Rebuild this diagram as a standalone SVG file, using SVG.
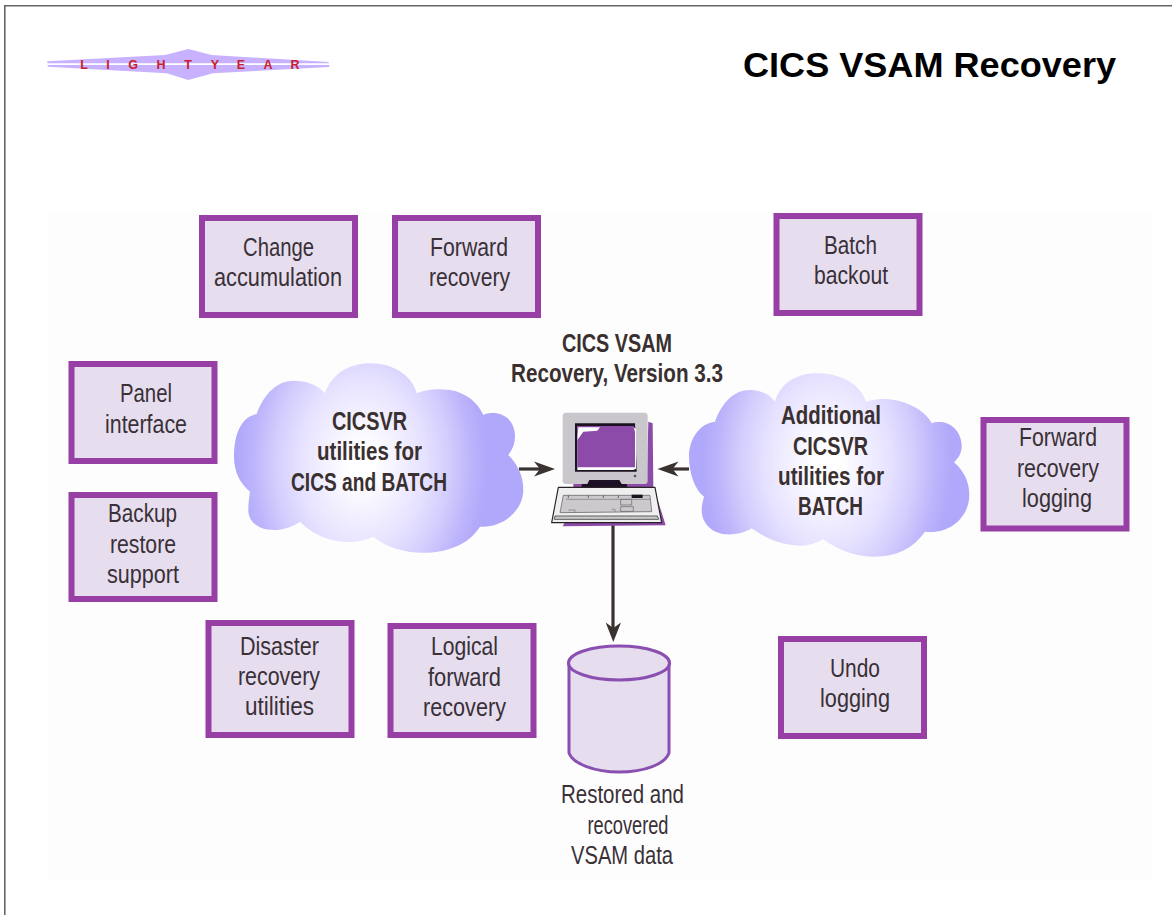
<svg xmlns="http://www.w3.org/2000/svg" width="1172" height="915" viewBox="0 0 1172 915">
<style>
.box{fill:#e6deee;stroke:#983fa6;stroke-width:6}
.t{font-family:"Liberation Sans",Arial,sans-serif;font-size:25px;fill:#3a3038;text-anchor:middle}
.b{font-weight:bold;fill:#3a3030}
.ln{stroke:#3a3230;stroke-width:3.2;fill:none}
.ah{fill:#3a3230}
.s0{stop-color:#ffffff}.s1{stop-color:#f6f4ff}.s2{stop-color:#e6e2ff}.s3{stop-color:#d2cdfd}.s4{stop-color:#bdb5fb}.s5{stop-color:#b0a8fa}
</style>
<defs>
<radialGradient id="c1" gradientUnits="userSpaceOnUse" cx="0" cy="0" r="1" gradientTransform="translate(362 464) scale(125 170)">
<stop offset="0.1" class="s0"/><stop offset="0.25" class="s1"/><stop offset="0.5" class="s2"/><stop offset="0.7" class="s3"/><stop offset="0.87" class="s4"/><stop offset="1" class="s5"/>
</radialGradient>
<radialGradient id="c2" gradientUnits="userSpaceOnUse" cx="0" cy="0" r="1" gradientTransform="translate(827 463) scale(125 170)">
<stop offset="0.1" class="s0"/><stop offset="0.25" class="s1"/><stop offset="0.5" class="s2"/><stop offset="0.7" class="s3"/><stop offset="0.87" class="s4"/><stop offset="1" class="s5"/>
</radialGradient>
</defs>
<rect width="1172" height="915" fill="#fff"/>
<path d="M4.800 915V5.800H1172" fill="none" stroke="#666" stroke-width="1.600"/>
<rect x="48" y="210" width="1105" height="670" fill="#fdfdfd"/>
<g id="logo">
<path d="M47.300 61.300L165 55L188.300 49L211.700 55L328.700 62V63.300H47.300ZM47.700 65H329.300V67L213 73.300L188.300 80L166.700 73.300L47.700 66.700Z" fill="#c8b2ff"/>
<g font-family="'Liberation Sans',Arial,sans-serif" font-size="12.500" font-weight="bold" fill="#c8202c" text-anchor="middle">
<text x="84" y="69.300">L</text><text x="108" y="69.300">I</text><text x="133" y="69.300">G</text><text x="161" y="69.300">H</text><text x="188" y="69.300">T</text><text x="215" y="69.300">Y</text><text x="241" y="69.300">E</text><text x="268" y="69.300">A</text><text x="295" y="69.300">R</text>
</g>
</g>
<text id="title" x="929.500" y="77" font-family="'Liberation Sans',Arial,sans-serif" font-size="35" font-weight="bold" text-anchor="middle" fill="#000" textLength="373" lengthAdjust="spacingAndGlyphs">CICS VSAM Recovery</text>
<g id="connectors">
<path class="ln" d="M519 469H541"/><path class="ah" d="M555 469L534 461.500L540 469L534 476.500Z"/>
<path class="ln" d="M689 469H672"/><path class="ah" d="M657.500 469L678.500 461.500L672.500 469L678.500 476.500Z"/>
<path class="ln" d="M613 525V630"/><path class="ah" d="M613.300 642L605.700 622.500L613.300 628L621 622.500Z"/>
</g>
<g id="n-change"><rect class="box" x="202" y="218" width="153" height="97"/><text class="t"><tspan x="278.500" y="256" textLength="71" lengthAdjust="spacingAndGlyphs">Change</tspan><tspan x="278" y="286" textLength="128" lengthAdjust="spacingAndGlyphs">accumulation</tspan></text></g>
<g id="n-forward"><rect class="box" x="395" y="218" width="143" height="97"/><text class="t"><tspan x="469" y="256" textLength="78" lengthAdjust="spacingAndGlyphs">Forward</tspan><tspan x="469.500" y="286" textLength="81" lengthAdjust="spacingAndGlyphs">recovery</tspan></text></g>
<g id="n-batch"><rect class="box" x="776.500" y="216" width="143" height="97"/><text class="t"><tspan x="850.500" y="254" textLength="53" lengthAdjust="spacingAndGlyphs">Batch</tspan><tspan x="851" y="284" textLength="74" lengthAdjust="spacingAndGlyphs">backout</tspan></text></g>
<g id="n-panel"><rect class="box" x="71.500" y="364" width="143" height="97"/><text class="t"><tspan x="146" y="402" textLength="52" lengthAdjust="spacingAndGlyphs">Panel</tspan><tspan x="146" y="433" textLength="82" lengthAdjust="spacingAndGlyphs">interface</tspan></text></g>
<g id="n-backup"><rect class="box" x="71.500" y="495" width="143" height="104"/><text class="t"><tspan x="142.500" y="522" textLength="69" lengthAdjust="spacingAndGlyphs">Backup</tspan><tspan x="143" y="553" textLength="66" lengthAdjust="spacingAndGlyphs">restore</tspan><tspan x="143" y="583" textLength="72" lengthAdjust="spacingAndGlyphs">support</tspan></text></g>
<g id="n-disaster"><rect class="box" x="208.500" y="623" width="143" height="112"/><text class="t"><tspan x="279.500" y="655" textLength="79" lengthAdjust="spacingAndGlyphs">Disaster</tspan><tspan x="279" y="685" textLength="82" lengthAdjust="spacingAndGlyphs">recovery</tspan><tspan x="279.500" y="715" textLength="69" lengthAdjust="spacingAndGlyphs">utilities</tspan></text></g>
<g id="n-logical"><rect class="box" x="390.500" y="626" width="143" height="109"/><text class="t"><tspan x="464.500" y="655" textLength="67" lengthAdjust="spacingAndGlyphs">Logical</tspan><tspan x="464.500" y="686" textLength="73" lengthAdjust="spacingAndGlyphs">forward</tspan><tspan x="464.500" y="716" textLength="83" lengthAdjust="spacingAndGlyphs">recovery</tspan></text></g>
<g id="n-undo"><rect class="box" x="781" y="639" width="143" height="97"/><text class="t"><tspan x="855" y="677" textLength="50" lengthAdjust="spacingAndGlyphs">Undo</tspan><tspan x="855" y="707" textLength="70" lengthAdjust="spacingAndGlyphs">logging</tspan></text></g>
<g id="n-frl"><rect class="box" x="983.500" y="420" width="143" height="108.500"/><text class="t"><tspan x="1058" y="446" textLength="78" lengthAdjust="spacingAndGlyphs">Forward</tspan><tspan x="1058" y="477" textLength="82" lengthAdjust="spacingAndGlyphs">recovery</tspan><tspan x="1057" y="507" textLength="70" lengthAdjust="spacingAndGlyphs">logging</tspan></text></g>
<g id="n-cloud1">
<path fill="url(#c1)" d="M325 393.300C331.700 373.300 350 363.300 370 363.300C393.300 363.300 411.700 375 416.700 393.300C426.700 389.300 436.700 388.300 450 390C466.700 392.700 478.300 403.300 483.300 415C486.700 413.300 491.700 412.700 496.700 413.300C508.300 415 515 425 515 436C515 445 511.700 450 508.300 455C518.300 465 523.300 476.700 523.300 490C523.300 510 503.300 528.300 480 526.700C468.300 545 446.700 552.700 423.300 552.700C403.300 552.700 385 546.700 373.300 536.700C363.300 541.700 353.300 542.300 343.300 541.700C326.700 540.700 311.700 533.300 300 521.700C293.300 526.700 283.300 530 273.300 530C258.300 530 248.300 521.700 248.300 510C248.300 503.300 249.300 496.700 250 491.700C240 483.300 234 471.700 234 456.700C234 433.300 241.700 416.700 256.700 414C263.300 395 276.700 380.700 293.300 380.700C306.700 380.700 318.300 385 325 393.300Z"/>
<text class="t b"><tspan x="369.500" y="430" textLength="75" lengthAdjust="spacingAndGlyphs">CICSVR</tspan><tspan x="369.500" y="460" textLength="105" lengthAdjust="spacingAndGlyphs">utilities for</tspan><tspan x="369" y="491" textLength="156" lengthAdjust="spacingAndGlyphs">CICS and BATCH</tspan></text>
</g>
<g id="n-cloud2">
<path fill="url(#c2)" d="M775 401.700C780 383.300 796.700 373.300 816.700 373.300C840 373.300 860 383.300 866 401.700C876.700 398.300 886.700 398.300 898.300 400.700C915 405 926.700 413.300 931.700 423.300C935 421.700 938.300 421.700 943.300 422.300C955 425 961.700 435 961.700 446C961.700 453.300 958.300 458.300 954 462.300C965 471.700 969.300 483.300 969.300 495C969.300 516.700 950 535 925 531.700C913.300 548.300 896.700 556.700 873.300 556.700C853.300 556.700 835 548.300 823.300 539.300C813.300 545 803.300 546.700 793.300 545C776.700 543.300 763.300 536.700 751.700 528.300C745 532.700 735 535 725 534.300C711.700 532.700 701.700 523.300 701.700 510C701.700 505 702.700 501.700 704 496.700C695 490 689 473.300 689 456.700C689 438.300 700 423.300 715 421.700C721.700 403.300 733.300 390 750 390C761.700 390 770 395 775 401.700Z"/>
<text class="t b"><tspan x="831" y="424" textLength="100" lengthAdjust="spacingAndGlyphs">Additional</tspan><tspan x="830.500" y="455" textLength="75" lengthAdjust="spacingAndGlyphs">CICSVR</tspan><tspan x="831" y="485" textLength="106" lengthAdjust="spacingAndGlyphs">utilities for</tspan><tspan x="830.500" y="515" textLength="65" lengthAdjust="spacingAndGlyphs">BATCH</tspan></text>
</g>
<g id="n-computer" transform="translate(500 390) scale(.33333)">
<path d="M445 95L458 100L460 295H220V280H440Z" fill="#8c4ba8"/>
<rect x="188" y="68" width="255" height="214" rx="10" fill="#c9c6cc"/>
<path d="M225 100H405L410 245H225Z" fill="#1d1320"/>
<path d="M232 108H398L408 118V236L400 240H232Z" fill="#fff"/>
<path d="M232 108H400L405 125V232H232Z" fill="#8c4ba8"/>
<path d="M235 112H300L292 122L250 125L232 150Z" fill="#fff"/>
<circle cx="405" cy="258" r="4" fill="#555"/>
<path d="M268 270H358L365 282H380L383 295H243L246 282H262Z" fill="#1d1024"/>
<path d="M470 320L497 406L188 409L195 395Z" fill="#8c4ba8"/>
<path d="M175 292H465L485 398H155Z" fill="#f0eff0" stroke="#2a2226" stroke-width="3.500" stroke-linejoin="round"/>
<path d="M190 316H450L455 365L180 368Z" fill="#cbc9cb" stroke="#555" stroke-width="2"/>
<path d="M165 378H472L476 388H163Z" fill="#cbc9cb" stroke="#444" stroke-width="2.500"/>
<path d="M395 314H428V324H395Z" fill="#1d1320"/>
<path d="M362 328H395V345H362ZM362 350H400V364H362Z" fill="none" stroke="#666" stroke-width="2"/>
<path d="M198 328H450M205 360H225V368M335 358H345V366" fill="none" stroke="#777" stroke-width="2"/>
<path d="M205 316V324M265 316V324M310 316V324M355 316V324" stroke="#666" stroke-width="3" fill="none"/>
</g>
<text id="computer-label" class="t b"><tspan x="617" y="352" textLength="110" lengthAdjust="spacingAndGlyphs">CICS VSAM</tspan><tspan x="617" y="382" textLength="212" lengthAdjust="spacingAndGlyphs">Recovery, Version 3.3</tspan></text>
<g id="n-data">
<path d="M569 663V753C573 764 595 772 619 772C645 772 665 764 669 753V663Z" fill="#e6deee" stroke="#8a4fb0" stroke-width="3"/>
<ellipse cx="619" cy="663" rx="50.500" ry="17" fill="#e6deee" stroke="#8a4fb0" stroke-width="3"/>
<text class="t"><tspan x="622.500" y="803" textLength="123" lengthAdjust="spacingAndGlyphs">Restored and</tspan><tspan x="628" y="834" textLength="81" lengthAdjust="spacingAndGlyphs">recovered</tspan><tspan x="622" y="864" textLength="102" lengthAdjust="spacingAndGlyphs">VSAM data</tspan></text>
</g>
</svg>
